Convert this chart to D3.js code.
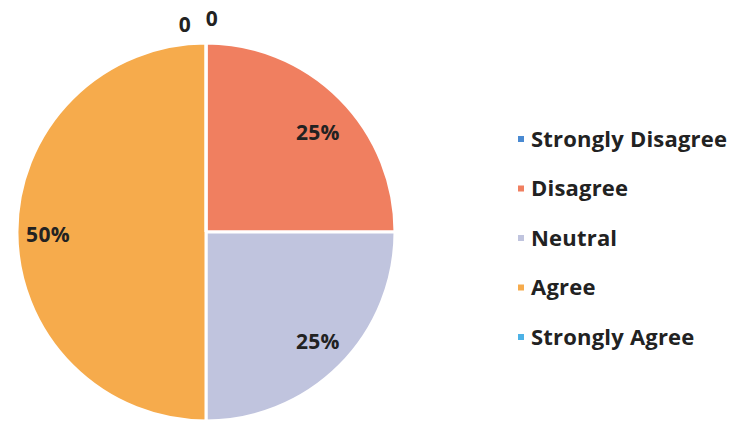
<!DOCTYPE html>
<html><head><meta charset="utf-8">
<script src="https://cdn.jsdelivr.net/npm/d3@7"></script>
<style>body{margin:0;background:#fff}svg{display:block}text{font-family:"Open Sans",sans-serif;font-weight:700}</style>
</head><body>
<svg id="c" width="734" height="423"></svg>
<script>
const categories = ["Strongly Disagree","Disagree","Neutral","Agree","Strongly Agree"];
const values = [0, 25, 25, 50, 0];
const labels = ["0","25%","25%","50%","0"];
const colors = ["#4A8AD2","#F07F60","#C0C4DE","#F6AB4C","#4DB2E6"];

const svg = d3.select("#c");
const cx = 206, cy = 232, R = 189;
const g = svg.append("g").attr("transform", `translate(${cx},${cy})`);
const pie = d3.pie().value(d => d).sort(null);
const arcs = pie(values);
const arc = d3.arc().innerRadius(0).outerRadius(R);
g.selectAll("path").data(arcs).enter().append("path")
  .attr("d", arc).attr("fill", (d,i) => colors[i])
  .attr("stroke", "#fff").attr("stroke-width", 3);

const labelArc = d3.arc().innerRadius(154).outerRadius(154);
const zeroArc = d3.arc().innerRadius(212).outerRadius(212);
const nudge = [[6,-2],[3,9],[3,1],[-4,2],[-21,4]];
g.selectAll("text.lbl").data(arcs).enter().append("text")
  .attr("class","lbl")
  .attr("transform", (d,i) => {
    const c = (d.data === 0 ? zeroArc : labelArc).centroid(d);
    return `translate(${c[0]+nudge[i][0]},${c[1]+nudge[i][1]})`;
  })
  .attr("text-anchor","middle").attr("dy","0.36em")
  .attr("font-size", 21).attr("fill", "#222").attr("letter-spacing", 0.3)
  .text((d,i) => labels[i]);

const y = d3.scalePoint().domain(categories).range([139, 337]);
const lg = svg.append("g");
const items = lg.selectAll("g").data(categories).enter().append("g")
  .attr("transform", d => `translate(518,${y(d)})`);
items.append("rect").attr("x",0).attr("y",-3).attr("width",6).attr("height",6)
  .attr("fill", (d,i) => colors[i]);
items.append("text").attr("x", 13).attr("dy","0.36em")
  .attr("font-size", 22).attr("fill", "#222").attr("letter-spacing", 0.2)
  .text(d => d);
</script>
</body></html>
